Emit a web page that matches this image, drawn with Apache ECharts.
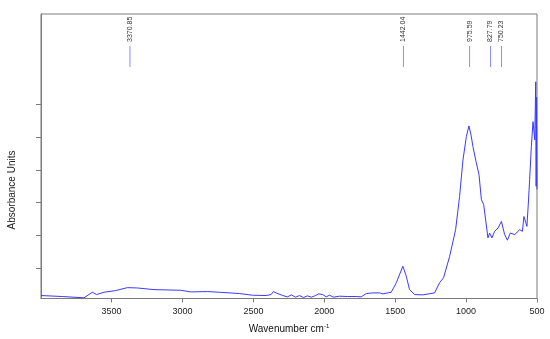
<!DOCTYPE html>
<html>
<head>
<meta charset="utf-8">
<script src="https://cdn.jsdelivr.net/npm/echarts@6/dist/echarts.min.js"></script>
<style>html,body{margin:0;padding:0;background:#fff;}#c{width:550px;height:339px;}</style>
</head>
<body>
<div id="c"></div>
<script>
// Spectrum (wavenumber cm-1, absorbance units)
var wavenumbers = [3998,3848,3695,3636,3606,3554,3472,3389,3319,3201,3013,2942,2825,2740,2599,2507,2410,2375,2359,2340,2293,2260,2232,2203,2175,2147,2119,2091,2062,2039,2011,1987,1963,1935,1893,1836,1775,1740,1704,1658,1610,1587,1528,1492,1446,1422,1399,1363,1305,1222,1187,1159,1116,1074,1046,1022,998,980,965,952,930,909,892,876,846,834,818,799,775,751,728,709,688,657,622,603,592,580,571,561,552,540,528,516,509,506,503,500];
var absorbance = [0.018,0.015,0.011,0.028,0.021,0.028,0.033,0.042,0.041,0.036,0.034,0.029,0.030,0.028,0.024,0.019,0.018,0.021,0.030,0.026,0.018,0.014,0.020,0.013,0.018,0.012,0.017,0.013,0.018,0.023,0.021,0.014,0.019,0.013,0.016,0.015,0.015,0.014,0.024,0.026,0.026,0.023,0.028,0.057,0.107,0.077,0.036,0.021,0.020,0.026,0.057,0.072,0.137,0.218,0.319,0.430,0.501,0.533,0.505,0.471,0.425,0.385,0.309,0.294,0.193,0.208,0.193,0.213,0.223,0.243,0.203,0.186,0.208,0.203,0.218,0.213,0.258,0.264,0.228,0.299,0.370,0.471,0.546,0.491,0.667,0.350,0.620,0.340];
// Peak picks
var peakPositions = [3370.85, 1442.04, 975.59, 827.79, 750.23];
var peakLabels = ['3370.85', '1442.04', '975.59', '827.79', '750.23'];
var peakLineLow = 0.712, peakLineHigh = 0.776;
// Axis ticks
var xMin = 500, xMax = 3998, xInterval = 500;
var yMin = 0.009, yMax = 0.873;
var yTicks = [0.1, 0.2, 0.3, 0.4, 0.5, 0.6];

var spectrum = wavenumbers.map(function (w, i) { return [w, absorbance[i]]; });
var peaks = peakPositions.map(function (p, i) { return [p, peakLineLow, peakLineHigh, peakLabels[i]]; });

var chart = echarts.init(document.getElementById('c'), null, { renderer: 'canvas' });
var axisColor = '#7a7a7a';
chart.setOption({
  animation: false,
  backgroundColor: '#fff',
  grid: { left: 41, right: 13, top: 14, bottom: 40, show: true, borderColor: axisColor, borderWidth: 1, backgroundColor: 'transparent' },
  xAxis: {
    type: 'value', inverse: true, min: xMin, max: xMax, interval: xInterval,
    axisLine: { show: true, lineStyle: { color: axisColor } },
    axisTick: { show: true, length: 4, lineStyle: { color: axisColor } },
    axisLabel: { color: '#222', fontSize: 9, fontFamily: 'Liberation Sans', margin: 9,
      showMaxLabel: false, formatter: function (v) { return String(v); } },
    splitLine: { show: false },
    name: 'Wavenumber cm{sup|-1}', nameLocation: 'middle', nameGap: 25,
    nameTextStyle: { color: '#111', fontSize: 10, fontFamily: 'Liberation Sans',
      rich: { sup: { fontSize: 6, fontFamily: 'Liberation Sans', color: '#111', padding: [0, 0, 5, 0] } } }
  },
  yAxis: {
    type: 'value', min: yMin, max: yMax,
    axisLine: { show: true, lineStyle: { color: axisColor } },
    axisTick: { show: true, length: 5, customValues: yTicks, lineStyle: { color: axisColor } },
    axisLabel: { show: false },
    splitLine: { show: false }
  },
  graphic: [{
    type: 'text', x: 12, y: 190, rotation: Math.PI / 2,
    style: { text: 'Absorbance Units', align: 'center', verticalAlign: 'middle', font: '10px "Liberation Sans"', fill: '#222' }
  }],
  series: [{
    type: 'line', data: spectrum, showSymbol: false, symbol: 'none',
    lineStyle: { color: '#3a3aff', width: 1 }, silent: true, clip: true
  }, {
    type: 'custom', data: peaks, silent: true,
    renderItem: function (params, api) {
      var x = api.value(0);
      var p1 = api.coord([x, api.value(1)]);
      var p2 = api.coord([x, api.value(2)]);
      return {
        type: 'group',
        children: [{
          type: 'line',
          shape: { x1: p1[0], y1: p1[1], x2: p2[0], y2: p2[1] },
          style: { stroke: '#8c8cff', lineWidth: 1 }
        }, {
          type: 'text', x: p2[0], y: p2[1] - 4, rotation: Math.PI / 2,
          style: { text: peakLabels[params.dataIndex], x: 0, y: 0, align: 'left', verticalAlign: 'middle', font: '7px "Liberation Sans"', fill: '#333' }
        }]
      };
    }
  }]
});
</script>
</body>
</html>
